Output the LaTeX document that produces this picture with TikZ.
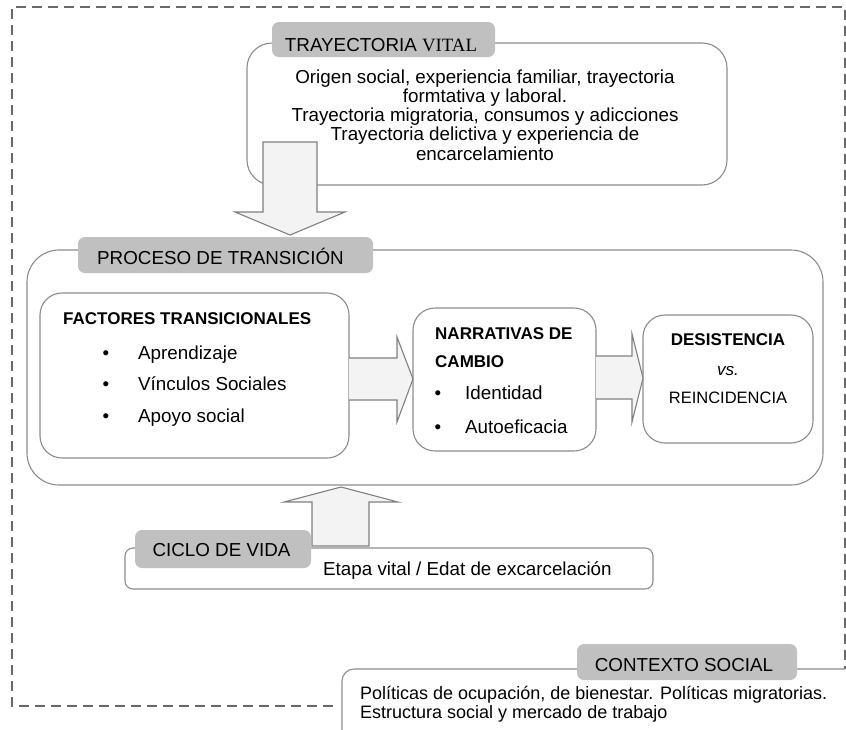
\documentclass[tikz,border=0pt]{standalone}
\usepackage{fontspec}
\setmainfont{Liberation Sans}
\newfontfamily\serifvital{Liberation Serif}
\definecolor{linegray}{RGB}{140,140,140}
\definecolor{tabgray}{RGB}{192,192,192}
\definecolor{arrowfill}{RGB}{243,243,243}
\definecolor{arrowline}{RGB}{128,128,128}
\definecolor{framegray}{RGB}{105,105,105}
\begin{document}
\begin{tikzpicture}[x=1pt,y=-1pt,
  box/.style={draw=linegray, line width=1.1pt, fill=white, anchor=north west, inner sep=0pt, outer sep=0pt},
  tab/.style={fill=tabgray, rounded corners=7pt, anchor=north west, inner sep=0pt, outer sep=0pt},
  txt/.style={inner sep=0pt, font=\fontsize{18.8}{19.5}\selectfont},
  stxt/.style={inner sep=0pt, font=\fontsize{18}{19}\selectfont},
  btxt/.style={inner sep=0pt, font=\fontsize{17}{19}\selectfont\bfseries},
  blockfill/.style={fill=arrowfill},
  blockline/.style={draw=arrowline, line width=1.1pt, line join=miter},
  frameline/.style={draw=framegray, line width=2pt, dash pattern=on 10pt off 6pt}
]
\useasboundingbox (0,0) rectangle (846,729);
\clip (0,0) rectangle (846,729);

% ---------- outer dashed frame ----------
\coordinate (fstart) at (333,706);
\coordinate (fend) at (845,669);
\draw[frameline] (fstart) -- (12,706) -- (12,7) -- (845,7) -- (fend);

% ---------- CONTEXTO SOCIAL ----------
\coordinate (ctxbl) at (342,745);
\draw[draw=linegray, line width=1.1pt, rounded corners=12pt] (ctxbl) -- (342,669) -- (fend);
\node[tab, minimum width=220, minimum height=36] (ctxtab) at (577,644) {};
\node[txt, anchor=base] (ctxlabel) at (684,671) {CONTEXTO SOCIAL};
\node[stxt, anchor=base west] (ctxl1) at (360,699) {Políticas de ocupación, de bienestar. Políticas migratorias.};
\node[stxt, anchor=base west] (ctxl2) at (360,718) {Estructura social y mercado de trabajo};

% ---------- TRAYECTORIA VITAL ----------
\node[box, rounded corners=25pt, minimum width=480, minimum height=142] (tray) at (247,43) {};
\node[tab, minimum width=223, minimum height=35] (traytab) at (272,22) {};
\node[txt, anchor=base] (traylabel) at (381,51.5) {TRAYECTORIA {\serifvital VITAL}};
\node[txt, anchor=base] (trayl1) at (485,83) {Origen social, experiencia familiar, trayectoria};
\node[txt, anchor=base] (trayl2) at (485,102.3) {formtativa y laboral.};
\node[txt, anchor=base] (trayl3) at (485,121.5) {Trayectoria migratoria, consumos y adicciones};
\node[txt, anchor=base] (trayl4) at (485,140.8) {Trayectoria delictiva y experiencia de};
\node[txt, anchor=base] (trayl5) at (485,160) {encarcelamiento};

% down arrow
\fill[blockfill] (263,142) -- (317,142) -- (317,212) -- (345,212) -- (290,235) -- (235,212) -- (263,212) -- cycle;
\draw[blockline] (263,142) -- (317,142) -- (317,212) -- (345,212) -- (290,235) -- (235,212) -- (263,212) -- cycle;

% ---------- PROCESO DE TRANSICION ----------
\node[box, rounded corners=32pt, minimum width=796, minimum height=235] (proc) at (27,250) {};
\node[tab, minimum width=295, minimum height=36] (proctab) at (78,237) {};
\node[txt, anchor=base west] (proclabel) at (97,264.5) {PROCESO DE TRANSICIÓN};

% factores
\node[box, rounded corners=22pt, minimum width=309, minimum height=165] (fact) at (40,293) {};
\node[btxt, anchor=base west] (facttitle) at (63,324) {FACTORES TRANSICIONALES};
\node[txt, anchor=base] (factb1) at (106,359) {•};
\node[txt, anchor=base] (factb2) at (106,390) {•};
\node[txt, anchor=base] (factb3) at (106,422) {•};
\node[txt, anchor=base west] (facti1) at (138,359) {Aprendizaje};
\node[txt, anchor=base west] (facti2) at (138,390) {Vínculos Sociales};
\node[txt, anchor=base west] (facti3) at (138,422) {Apoyo social};

% narrativas
\node[box, rounded corners=22pt, minimum width=183, minimum height=143] (narr) at (413,308) {};
\node[btxt, anchor=base west] (narrt1) at (435,339) {NARRATIVAS DE};
\node[btxt, anchor=base west] (narrt2) at (435,367) {CAMBIO};
\node[txt, anchor=base] (narrb1) at (438,399) {•};
\node[txt, anchor=base] (narrb2) at (438,433) {•};
\node[txt, anchor=base west] (narri1) at (465,399) {Identidad};
\node[txt, anchor=base west] (narri2) at (465,433) {Autoeficacia};

% desistencia
\node[box, rounded corners=22pt, minimum width=170, minimum height=128] (desi) at (643,315) {};
\node[btxt, anchor=base] (desit1) at (728,345) {DESISTENCIA};
\node[txt, anchor=base, font=\fontsize{17}{19}\selectfont\itshape] (desit2) at (728,375) {vs.};
\node[txt, anchor=base, font=\fontsize{16.5}{19}\selectfont] (desit3) at (728,403) {REINCIDENCIA};

% arrow factores -> narrativas
\fill[blockfill] (fact.east |- 0,358) -- (397,358) -- (397,337) -- (narr.west |- 0,379) -- (397,422) -- (397,400) -- (fact.east |- 0,400) -- cycle;
\draw[blockline] (fact.east |- 0,358) -- (397,358) -- (397,337) -- (narr.west |- 0,379) -- (397,422) -- (397,400) -- (fact.east |- 0,400);

% arrow narrativas -> desistencia
\fill[blockfill] (narr.east |- 0,356) -- (632,356) -- (632,334) -- (desi.west |- 0,378) -- (632,422) -- (632,399) -- (narr.east |- 0,399) -- cycle;
\draw[blockline] (narr.east |- 0,356) -- (632,356) -- (632,334) -- (desi.west |- 0,378) -- (632,422) -- (632,399) -- (narr.east |- 0,399);

% ---------- CICLO DE VIDA ----------
\fill[blockfill] (312,546) -- (312,502) -- (284,502) -- (341,487) -- (398,502) -- (369,502) -- (369,546) -- cycle;
\draw[blockline] (312,546) -- (312,502) -- (284,502) -- (341,487) -- (398,502) -- (369,502) -- (369,546) -- cycle;
\node[box, rounded corners=8pt, minimum width=528, minimum height=41] (ciclo) at (125,548) {};
\node[tab, minimum width=176, minimum height=38] (ciclotab) at (135,530) {};
\node[txt, anchor=base] (ciclolabel) at (221.5,556.6) {CICLO DE VIDA};
\node[txt, anchor=base west] (ciclotext) at (323,575) {Etapa vital / Edat de excarcelación};
\end{tikzpicture}
\end{document}
